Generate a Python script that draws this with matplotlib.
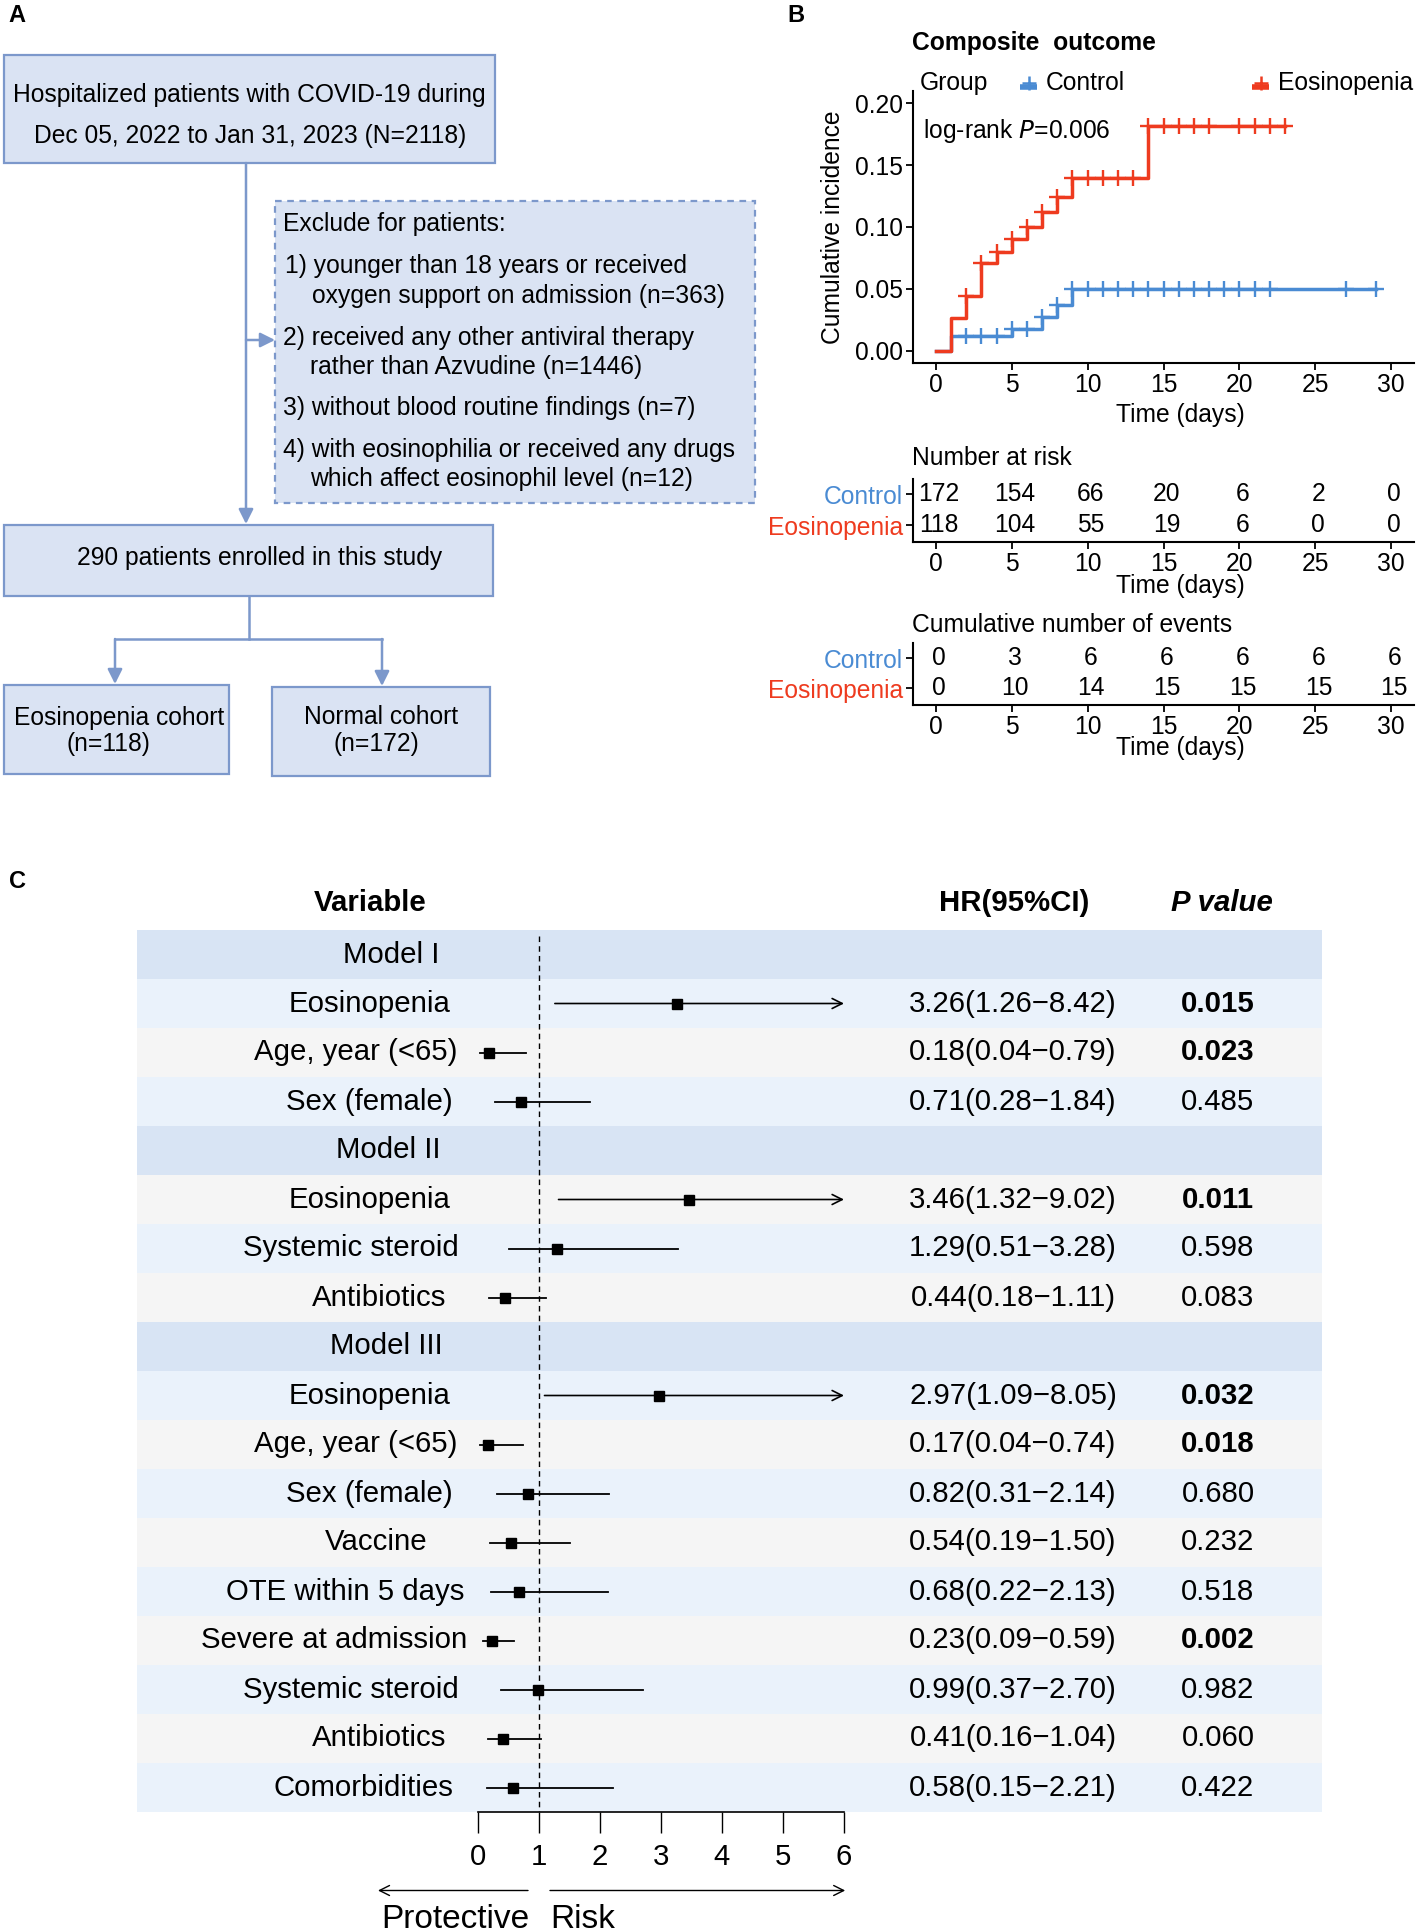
import numpy as np
import matplotlib
matplotlib.use('Agg')
import matplotlib.pyplot as plt
from matplotlib.patches import Rectangle

plt.rcParams['font.family'] = ['Liberation Sans', 'Noto Sans CJK SC', 'DejaVu Sans']

W, H = 1417, 1932

# ---------------- data ----------------
# panel B: cumulative incidence curves (step values)
eos_t = [0, 1, 2, 3, 4, 5, 6, 7, 8, 9, 14, 23]
eos_y = [0, 0.026, 0.044, 0.071, 0.080, 0.090, 0.100, 0.112, 0.124, 0.140, 0.182, 0.182]
eos_censor = [2, 3, 4, 5, 6, 7, 8, 9, 10, 11, 12, 13, 14, 15, 16, 17, 18, 20, 21, 22, 23]

ctl_t = [0, 1, 5, 7, 8, 9, 29]
ctl_y = [0, 0.0116, 0.0178, 0.027, 0.037, 0.050, 0.050]
ctl_censor = [2, 3, 4, 5, 6, 7, 8, 9, 10, 11, 12, 13, 14, 15, 16, 17, 18, 19, 20, 21, 22, 27, 29]

table_times = [0, 5, 10, 15, 20, 25, 30]
risk_ctl = [172, 154, 66, 20, 6, 2, 0]
risk_eos = [118, 104, 55, 19, 6, 0, 0]
events_ctl = [0, 3, 6, 6, 6, 6, 6]
events_eos = [0, 10, 14, 15, 15, 15, 15]

# panel C: forest plot
fp_labels = ['Model I', 'Eosinopenia', 'Age, year (<65)', 'Sex (female)',
             'Model II', 'Eosinopenia', 'Systemic steroid', 'Antibiotics',
             'Model III', 'Eosinopenia', 'Age, year (<65)', 'Sex (female)', 'Vaccine',
             'OTE within 5 days', 'Severe at admission', 'Systemic steroid',
             'Antibiotics', 'Comorbidities']
fp_hr = [None, 3.26, 0.18, 0.71, None, 3.46, 1.29, 0.44, None, 2.97, 0.17, 0.82,
         0.54, 0.68, 0.23, 0.99, 0.41, 0.58]
fp_lo = [None, 1.26, 0.04, 0.28, None, 1.32, 0.51, 0.18, None, 1.09, 0.04, 0.31,
         0.19, 0.22, 0.09, 0.37, 0.16, 0.15]
fp_hi = [None, 8.42, 0.79, 1.84, None, 9.02, 3.28, 1.11, None, 8.05, 0.74, 2.14,
         1.50, 2.13, 0.59, 2.70, 1.04, 2.21]
fp_p = ['', '0.015', '0.023', '0.485', '', '0.011', '0.598', '0.083', '', '0.032',
        '0.018', '0.680', '0.232', '0.518', '0.002', '0.982', '0.060', '0.422']

RED = '#EE3B1F'
BLUE = '#4A8BD3'
BOX_FILL = '#DAE3F3'
BOX_EDGE = '#7C98CB'


def rect(l, t, r, b):
    return [l / W, 1 - b / H, (r - l) / W, (b - t) / H]


fig = plt.figure(figsize=(W / 100, H / 100), dpi=100)

# overlay in pixel coordinates for flowchart and free text
ax0 = fig.add_axes([0, 0, 1, 1])
ax0.set_xlim(0, W)
ax0.set_ylim(H, 0)
ax0.axis('off')

for lab, x, y in [('A', 17, 16), ('B', 796, 16), ('C', 17, 882)]:
    ax0.text(x, y, lab, fontsize=17, fontweight='bold', ha='center', va='center')

# ---------------- panel A: flowchart ----------------
FA = 17.7


def box(l, t, r, b, dashed=False):
    ax0.add_patch(Rectangle((l, t), r - l, b - t, facecolor=BOX_FILL, edgecolor=BOX_EDGE,
                            lw=1.6, ls=(0, (3, 2.5)) if dashed else '-'))


def arrow(x1, y1, x2, y2):
    ax0.annotate('', xy=(x2, y2), xytext=(x1, y1),
                 arrowprops=dict(arrowstyle='-|>', color=BOX_EDGE, lw=1.8,
                                 mutation_scale=22, shrinkA=0, shrinkB=0))


box(4, 55, 495, 163)
ax0.text(249, 95, 'Hospitalized patients with COVID-19 during', fontsize=FA, ha='center', va='center')
ax0.text(250, 136, 'Dec 05, 2022 to Jan 31, 2023 (N=2118)', fontsize=FA, ha='center', va='center')
arrow(246, 163, 246, 524)
arrow(246, 340, 275, 340)

box(275, 201, 755, 503, dashed=True)
excl = [(283, 224, 'Exclude for patients:'),
        (285, 266, '1) younger than 18 years or received'),
        (312, 296, 'oxygen support on admission (n=363)'),
        (283, 338, '2) received any other antiviral therapy'),
        (310, 367, 'rather than Azvudine (n=1446)'),
        (283, 408, '3) without blood routine findings (n=7)'),
        (283, 450, '4) with eosinophilia or received any drugs'),
        (310, 479, 'which affect eosinophil level (n=12)')]
for x, y, s in excl:
    ax0.text(x, y, s, fontsize=FA, ha='left', va='center')

box(4, 525, 493, 596)
ax0.text(260, 558, '290 patients enrolled in this study', fontsize=FA, ha='center', va='center')
ax0.plot([249, 249], [596, 639], color=BOX_EDGE, lw=1.8)
ax0.plot([115, 382], [639, 639], color=BOX_EDGE, lw=1.8)
arrow(115, 639, 115, 684)
arrow(382, 639, 382, 686)

box(4, 685, 229, 774)
ax0.text(119, 718, 'Eosinopenia cohort', fontsize=FA, ha='center', va='center')
ax0.text(108, 744, '(n=118)', fontsize=FA, ha='center', va='center')
box(272, 687, 490, 776)
ax0.text(381, 717, 'Normal cohort', fontsize=FA, ha='center', va='center')
ax0.text(376, 744, '(n=172)', fontsize=FA, ha='center', va='center')

# ---------------- panel B: cumulative incidence ----------------
FB = 17.7
ax0.text(912, 43, 'Composite  outcome', fontsize=FB, fontweight='bold', ha='left', va='center')
ax0.text(920, 83, 'Group', fontsize=FB, ha='left', va='center')
for x0, col, name in [(1020, BLUE, 'Control'), (1252, RED, 'Eosinopenia')]:
    ax0.plot([x0, x0 + 17], [87, 87], color=col, lw=4, solid_capstyle='butt')
    ax0.plot([x0 + 8.5], [83], marker='+', ms=10, mew=1.8, color=col)
    ax0.text(x0 + 26, 83, name, fontsize=FB, ha='left', va='center')

ax_km = fig.add_axes(rect(913, 91, 1414, 363))
ax_km.patch.set_alpha(0)


def step_lookup(ts, ys, t):
    idx = np.searchsorted(ts, t, side='right') - 1
    return np.asarray(ys)[idx]


for ts, ys, cens, col in [(ctl_t, ctl_y, ctl_censor, BLUE), (eos_t, eos_y, eos_censor, RED)]:
    ax_km.step(ts, ys, where='post', color=col, lw=2.5)
    ax_km.plot(cens, step_lookup(ts, ys, cens), ls='none', marker='+', ms=11, mew=1.7, color=col)

ax_km.set_xlim(-1.5, 31.5)
ax_km.set_ylim(-0.01, 0.21)
ax_km.set_xticks(table_times)
ax_km.set_yticks([0, 0.05, 0.10, 0.15, 0.20])
ax_km.set_yticklabels(['0.00', '0.05', '0.10', '0.15', '0.20'])
ax0.text(923, 131, 'log-rank $\\it{P}$=0.006', fontsize=FB, ha='left', va='center')
ax0.text(833, 227, 'Cumulative incidence', fontsize=FB, rotation=90, ha='center', va='center')
ax0.text(1180, 415, 'Time (days)', fontsize=FB, ha='center', va='center')


def style_axes(a):
    for s in ['top', 'right']:
        a.spines[s].set_visible(False)
    for s in ['left', 'bottom']:
        a.spines[s].set_linewidth(1.5)
    a.tick_params(direction='out', length=5, width=1.3, labelsize=FB, pad=2)


style_axes(ax_km)


def count_table(top, bottom, title_y, xlabel_y, ctl_vals, eos_vals, title):
    a = fig.add_axes(rect(913, top, 1414, bottom))
    a.patch.set_alpha(0)
    a.set_xlim(-1.5, 31.5)
    a.set_ylim(-0.55, 1.5)
    for t, c, e in zip(table_times, ctl_vals, eos_vals):
        a.text(t + 0.2, 1, str(c), fontsize=FB, ha='center', va='center')
        a.text(t + 0.2, 0, str(e), fontsize=FB, ha='center', va='center')
    a.set_xticks(table_times)
    a.set_yticks([1, 0])
    a.set_yticklabels(['Control', 'Eosinopenia'])
    style_axes(a)
    for lbl, col in zip(a.get_yticklabels(), [BLUE, RED]):
        lbl.set_color(col)
    ax0.text(912, title_y, title, fontsize=FB, ha='left', va='center')
    ax0.text(1180, xlabel_y, 'Time (days)', fontsize=FB, ha='center', va='center')
    return a


count_table(479, 542, 458, 586, risk_ctl, risk_eos, 'Number at risk')
count_table(643, 705, 625, 748, events_ctl, events_eos, 'Cumulative number of events')

# ---------------- panel C: forest plot ----------------
FC = 21.2
n = len(fp_labels)
is_model = [h is None for h in fp_hr]
# horizontal centre (px) of each variable label, as laid out in the original table
label_x = [391, 370, 356, 369, 388, 370, 351, 379, 386, 370, 356, 369, 376, 345, 334, 351, 379, 363]

ax0.text(370, 903, 'Variable', fontsize=FC, fontweight='bold', ha='center', va='center')
ax0.text(1014, 903, 'HR(95%CI)', fontsize=FC, fontweight='bold', ha='center', va='center')
ax0.text(1222, 903, 'P value', fontsize=FC, fontweight='bold', style='italic', ha='center', va='center')

ax_t = fig.add_axes(rect(137, 930, 1322, 1812))
ax_t.set_xlim(137, 1322)
ax_t.set_ylim(n, 0)
ax_t.axis('off')

row_cols = []
k = 0
for m in is_model:
    if m:
        row_cols.append('#D8E4F4')
    else:
        row_cols.append('#EAF2FB' if k % 2 == 0 else '#F5F5F5')
        k += 1
centers = np.arange(n) + 0.5
ax_t.barh(centers, 1185, left=137, height=1.0, color=row_cols, edgecolor='none')

for i in range(n):
    y = centers[i]
    ax_t.text(label_x[i], y, fp_labels[i], fontsize=FC, ha='center', va='center')
    if is_model[i]:
        continue
    hr_txt = '%.2f(%.2f\u2212%.2f)' % (fp_hr[i], fp_lo[i], fp_hi[i])
    ax_t.text(1013, y, hr_txt, fontsize=FC, ha='center', va='center')
    bold = float(fp_p[i]) < 0.05
    ax_t.text(1218, y, fp_p[i], fontsize=FC, ha='center', va='center',
              fontweight='bold' if bold else 'normal')

ax_f = fig.add_axes(rect(478, 930, 844, 1812))
ax_f.patch.set_alpha(0)
ax_f.set_xlim(0, 6)
ax_f.set_ylim(n, 0)
for s in ['left', 'right', 'top']:
    ax_f.spines[s].set_visible(False)
ax_f.spines['bottom'].set_linewidth(1.2)
ax_f.set_yticks([])
ax_f.set_xticks([0, 1, 2, 3, 4, 5, 6])
ax_f.tick_params(axis='x', direction='out', length=15, width=1, labelsize=FC, pad=7)

ax_f.vlines(1, 0.12, n, colors='black', linestyles=(0, (4, 3)), lw=1)
for i in range(n):
    if is_model[i]:
        continue
    y = centers[i]
    if fp_hi[i] > 6:
        ax_f.annotate('', xy=(6, y), xytext=(fp_lo[i], y),
                      arrowprops=dict(arrowstyle='->', color='black', lw=1.2,
                                      mutation_scale=18, shrinkA=0, shrinkB=0))
    else:
        ax_f.plot([fp_lo[i], fp_hi[i]], [y, y], color='black', lw=1.3)
    ax_f.plot([fp_hr[i]], [y], marker='s', ms=7.5, color='black', clip_on=False)

ya = -0.089
ax_f.annotate('', xy=(-1.64, ya), xytext=(0.82, ya), xycoords=('data', 'axes fraction'),
              arrowprops=dict(arrowstyle='->', color='black', lw=1, mutation_scale=18,
                              shrinkA=0, shrinkB=0))
ax_f.annotate('', xy=(6.02, ya), xytext=(1.18, ya), xycoords=('data', 'axes fraction'),
              arrowprops=dict(arrowstyle='->', color='black', lw=1, mutation_scale=18,
                              shrinkA=0, shrinkB=0))
ax_f.text(0.84, -0.122, 'Protective', fontsize=24, ha='right', va='center',
          transform=ax_f.get_xaxis_transform())
ax_f.text(1.19, -0.122, 'Risk', fontsize=24, ha='left', va='center',
          transform=ax_f.get_xaxis_transform())

fig.savefig('out.png', dpi=100)
